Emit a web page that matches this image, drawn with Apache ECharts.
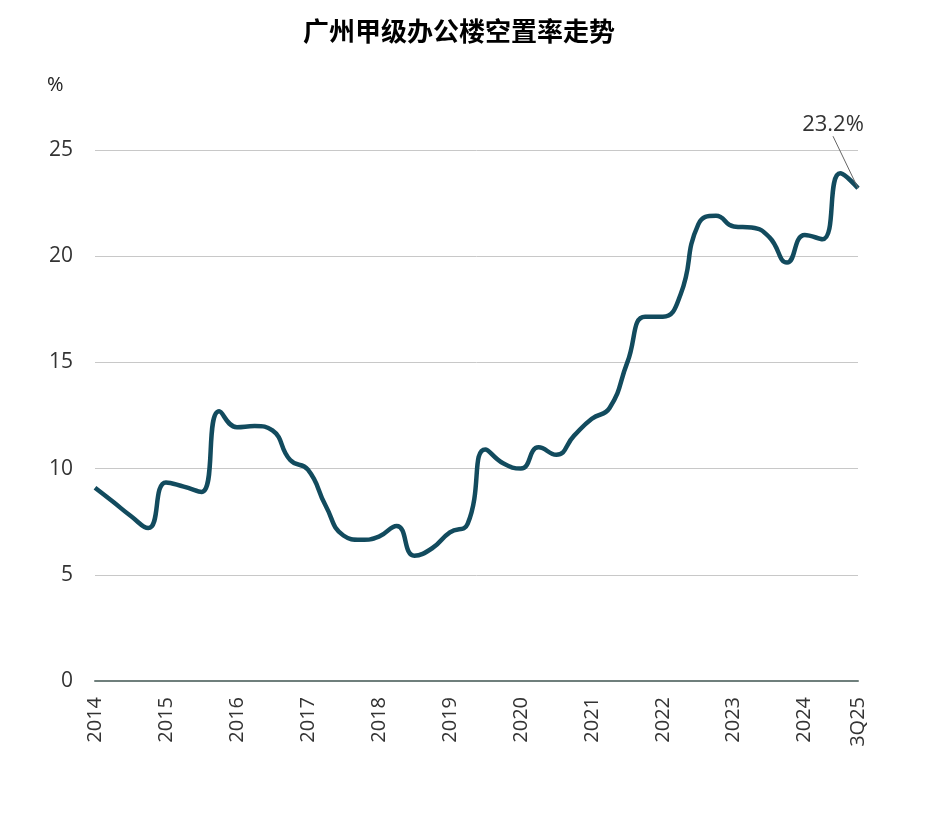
<!DOCTYPE html>
<html>
<head>
<meta charset="utf-8">
<script src="https://cdn.jsdelivr.net/npm/echarts@6/dist/echarts.min.js"></script>
<style>
html,body{margin:0;padding:0;background:#fff;}
#c{width:950px;height:813px;}
</style>
</head>
<body>
<div id="c"></div>
<script>
// Quarters from 4Q14 to 3Q25
const quarters = [
  '4Q14',
  '1Q15','2Q15','3Q15','4Q15',
  '1Q16','2Q16','3Q16','4Q16',
  '1Q17','2Q17','3Q17','4Q17',
  '1Q18','2Q18','3Q18','4Q18',
  '1Q19','2Q19','3Q19','4Q19',
  '1Q20','2Q20','3Q20','4Q20',
  '1Q21','2Q21','3Q21','4Q21',
  '1Q22','2Q22','3Q22','4Q22',
  '1Q23','2Q23','3Q23','4Q23',
  '1Q24','2Q24','3Q24','4Q24',
  '1Q25','2Q25','3Q25'
];
// Vacancy rate (%)
const vacancy = [
  9.1,
  8.45, 7.78, 7.2, 9.35,
  9.15, 8.9, 12.7, 11.95,
  12.0, 11.8, 10.4, 9.95,
  8.25, 6.85, 6.65, 6.8,
  7.3, 5.9, 6.25, 7.0,
  7.4, 10.9, 10.25, 10.0,
  11.0, 10.65, 11.55, 12.35,
  12.85, 15.0, 17.15, 17.15,
  18.2, 21.5, 21.9, 21.4,
  21.35, 20.9, 19.7, 21.0,
  20.8, 23.9, 23.2
];
// Tick labels shown on the x axis
const tickLabels = {
  '4Q14':'2014','4Q15':'2015','4Q16':'2016','4Q17':'2017','4Q18':'2018','4Q19':'2019',
  '4Q20':'2020','4Q21':'2021','4Q22':'2022','4Q23':'2023','4Q24':'2024','3Q25':'3Q25'
};
const yTicks = [0, 5, 10, 15, 20, 25];
const titleText = '广州甲级办公楼空置率走势';
const unitText = '%';

const lastIdx = vacancy.length - 1;
const seriesData = vacancy.map((v, i) => {
  if (i !== lastIdx) return v;
  return {
    value: v,
    label: {
      show: true,
      position: 'top',
      distance: 0,
      formatter: v.toFixed(1) + '%',
      fontFamily: 'Open Sans',
      fontSize: 22,
      color: '#333'
    },
    labelLine: { show: true, lineStyle: { color: '#666', width: 1 } }
  };
});

const chart = echarts.init(document.getElementById('c'), null, {renderer: 'canvas'});
chart.setOption({
  animation: false,
  backgroundColor: '#fff',
  title: {
    text: titleText,
    left: 298,
    top: 13,
    textStyle: { fontFamily: 'Noto Sans CJK SC', fontSize: 26, fontWeight: 'bold', color: '#000' }
  },
  graphic: [{
    type: 'text',
    left: 47,
    top: 75,
    style: { text: unitText, fontFamily: 'Open Sans', fontSize: 20, fill: '#222' }
  }],
  grid: { left: 95, right: 92, top: 150, bottom: 132, containLabel: false },
  xAxis: {
    type: 'category',
    data: quarters,
    boundaryGap: false,
    axisLine: { show: true, lineStyle: { color: '#6f7f7c', width: 2 } },
    axisTick: { show: false },
    splitLine: { show: false },
    axisLabel: {
      rotate: 90,
      margin: 16,
      interval: (idx, val) => tickLabels[val] !== undefined,
      formatter: (val) => tickLabels[val] || '',
      fontFamily: 'Open Sans',
      fontSize: 20,
      color: '#333'
    }
  },
  yAxis: {
    type: 'value',
    min: yTicks[0],
    max: yTicks[yTicks.length - 1],
    interval: 5,
    axisLine: { show: false },
    axisTick: { show: false },
    splitLine: { show: true, lineStyle: { color: '#c8c8c8', width: 1 } },
    axisLabel: {
      margin: 22,
      fontFamily: 'Open Sans',
      fontSize: 21,
      color: '#333'
    }
  },
  series: [{
    type: 'line',
    data: seriesData,
    smooth: 0.5,
    symbol: 'circle',
    symbolSize: 0.01,
    showSymbol: true,
    itemStyle: { color: 'rgba(0,0,0,0)' },
    lineStyle: { color: '#124b5e', width: 4.5 },
    labelLayout: (params) => {
      if (params.dataIndex === lastIdx) return { dx: -25, dy: -52 };
      return {};
    },
    z: 3
  }]
});
</script>
</body>
</html>
